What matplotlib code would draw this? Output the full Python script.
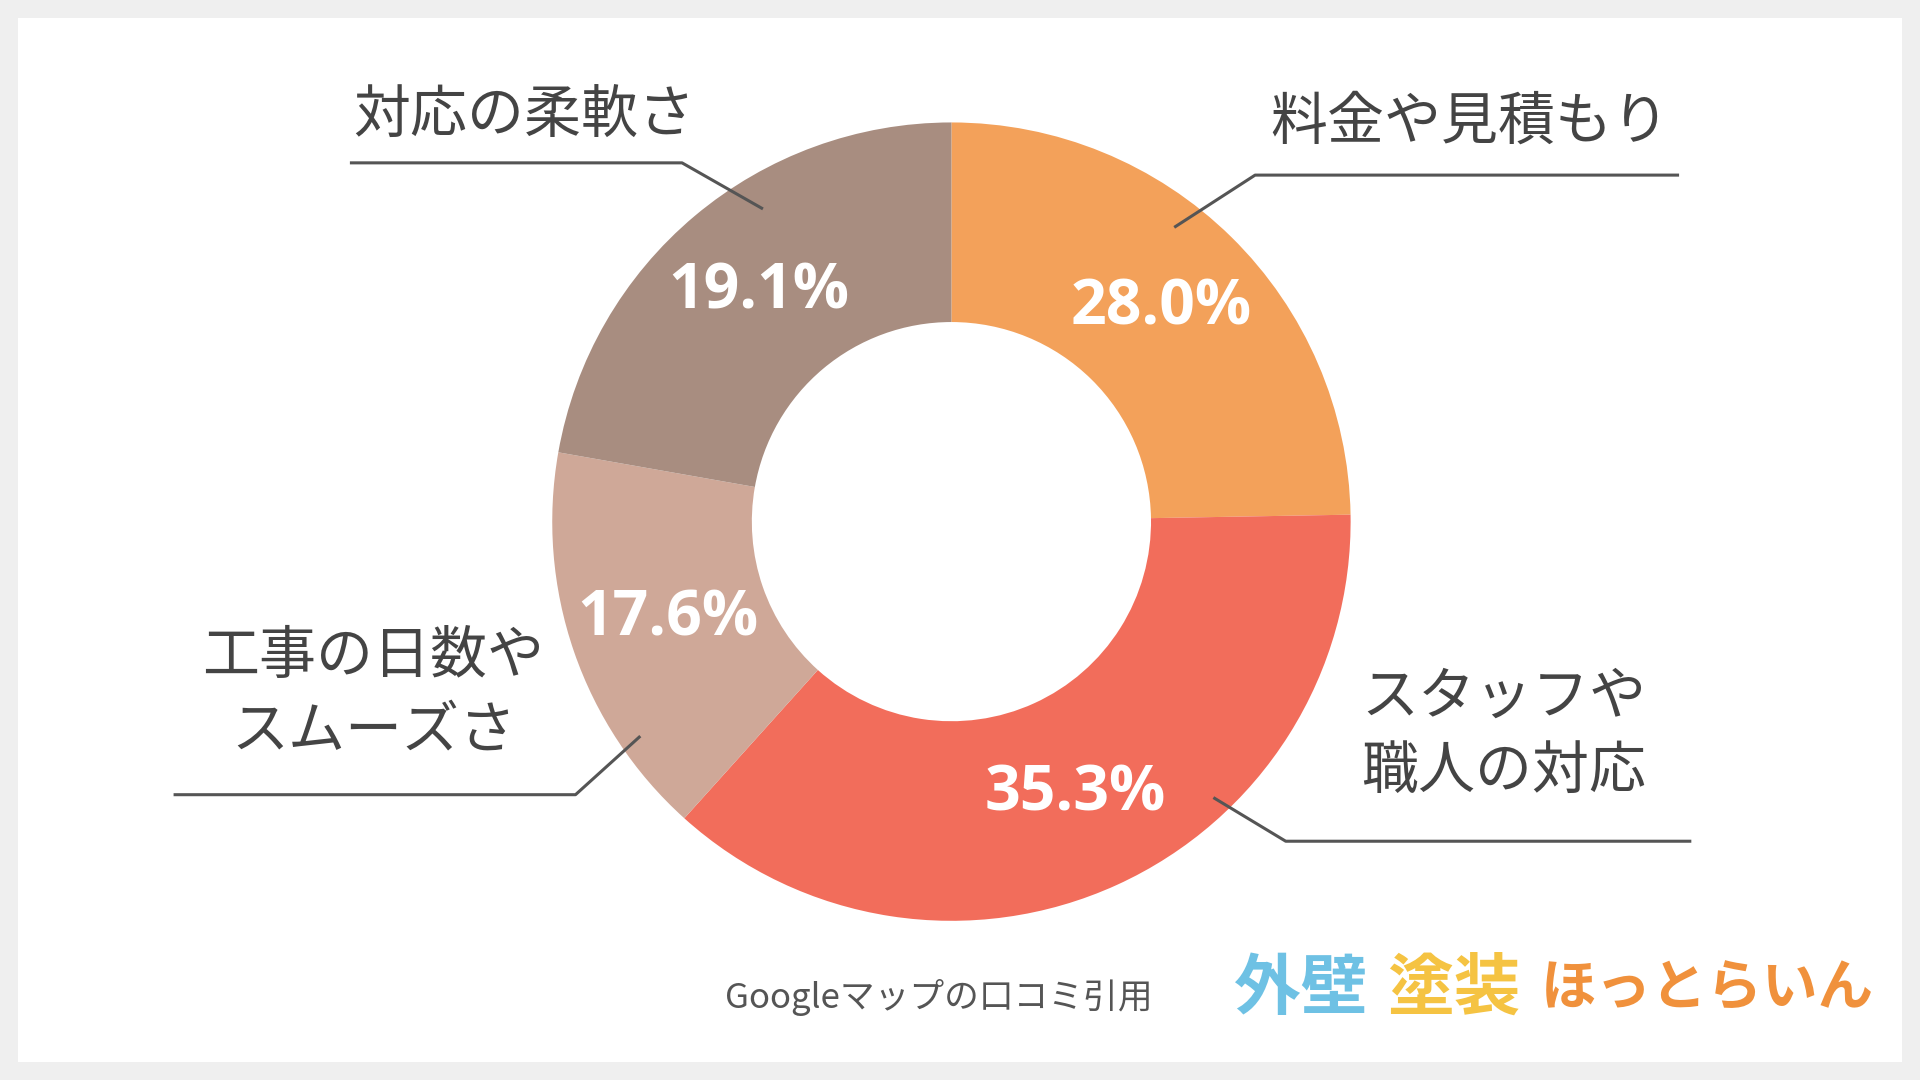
import numpy as np
import matplotlib
matplotlib.use("Agg")
import matplotlib.pyplot as plt
from matplotlib.patches import Rectangle

categories = ["料金や見積もり", "スタッフや\n職人の対応", "工事の日数や\nスムーズさ", "対応の柔軟さ"]
pct_labels = ["28.0%", "35.3%", "17.6%", "19.1%"]
# wedge sizes as drawn in the reference picture (degrees of arc)
wedge_sizes = [89, 133, 58, 80]
colors = ["#F3A15A", "#F26D5B", "#CFA898", "#A88D80"]
source = "Googleマップの口コミ引用"
logo_parts = ["外壁", "塗装", "ほっとらいん"]
logo_colors = ["#6EC1E4", "#F5C342", "#F0913C"]

plt.rcParams["font.family"] = "Noto Sans CJK JP"
W, H = 1568, 882
fig = plt.figure(figsize=(19.2, 10.8), dpi=100, facecolor="#EFEFEF")
ax = fig.add_axes([0, 0, 1, 1])
ax.add_patch(Rectangle((15, 15), W - 30, H - 30, facecolor="white", edgecolor="none", zorder=0))

Y = lambda y: H - y
cx, cy, R = 777, Y(426), 326
wedges, _ = ax.pie(wedge_sizes, colors=colors, startangle=90, counterclock=False,
    center=(cx, cy), radius=R, wedgeprops=dict(width=163, edgecolor="none"), frame=True)
ax.set_xlim(0, W); ax.set_ylim(0, H); ax.set_aspect("equal"); ax.axis("off")
for w, lab in zip(wedges, pct_labels):
    a = np.deg2rad((w.theta1 + w.theta2) / 2)
    ax.text(cx + 0.75 * R * np.cos(a), cy + 0.75 * R * np.sin(a), lab, ha="center", va="center",
            color="white", fontsize=45, fontweight="bold", fontfamily="Open Sans")

lc = "#555555"
leaders = [
    ([(960, 185), (1025, 143), (1370, 143)], (1200, 100)),
    ([(992, 652), (1050, 687), (1380, 687)], (1228, 600)),
    ([(522, 602), (470, 649), (143, 649)], (305, 567)),
    ([(622, 170), (557, 133), (287, 133)], (428, 95)),
]
for cat, (pts, tp) in zip(categories, leaders):
    ax.plot([p[0] for p in pts], [Y(p[1]) for p in pts], color=lc, lw=2.2)
    ax.text(tp[0], Y(tp[1]), cat, ha="center", va="center", fontsize=41,
            color="#444444", linespacing=1.35)

ax.text(767, Y(815), source, ha="center", va="center", fontsize=25, color="#555555")

for s, c, x, fs in zip(logo_parts, logo_colors, [1008, 1133, 1258], [48, 48, 40]):
    ax.text(x, Y(808), s, ha="left", va="center", fontsize=fs, fontweight="bold", color=c)
fig.savefig("out.png", dpi=100, facecolor=fig.get_facecolor())
